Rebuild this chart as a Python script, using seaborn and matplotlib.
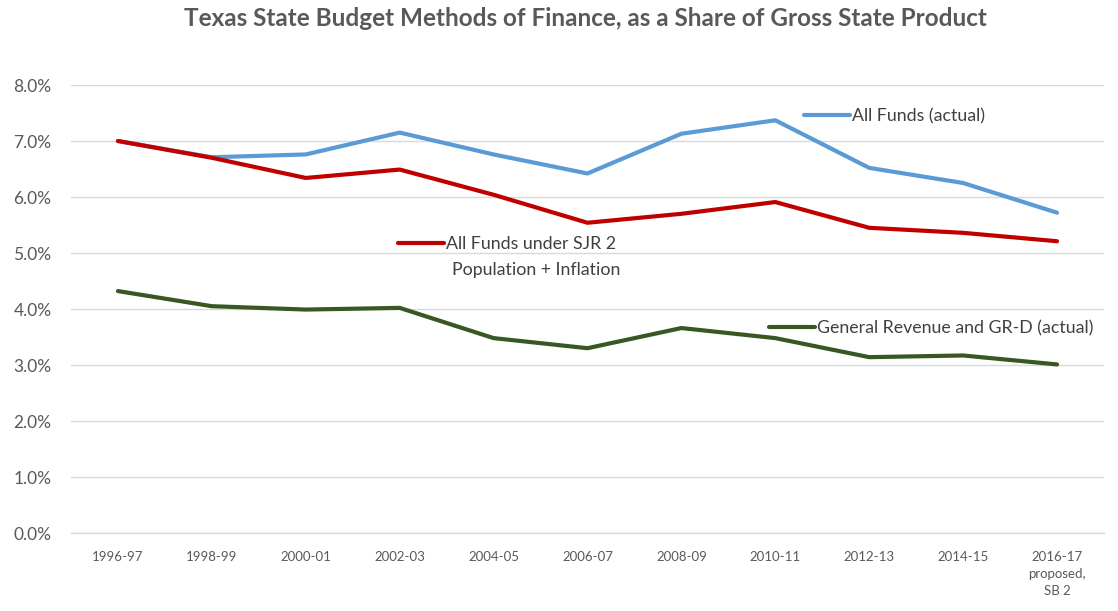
import matplotlib
matplotlib.use("Agg")
import matplotlib.pyplot as plt
from matplotlib.lines import Line2D
import seaborn as sns
import pandas as pd

periods = ["1996-97", "1998-99", "2000-01", "2002-03", "2004-05", "2006-07",
           "2008-09", "2010-11", "2012-13", "2014-15", "2016-17\nproposed,\nSB 2"]
all_funds = [7.00, 6.71, 6.76, 7.15, 6.76, 6.42, 7.13, 7.37, 6.52, 6.25, 5.72]
sjr2 = [7.00, 6.70, 6.34, 6.49, 6.04, 5.54, 5.70, 5.91, 5.45, 5.36, 5.21]
gr = [4.32, 4.05, 3.99, 4.02, 3.48, 3.30, 3.66, 3.48, 3.14, 3.17, 3.01]
y_ticks = [0, 1, 2, 3, 4, 5, 6, 7, 8]

series_names = ["All Funds (actual)", "All Funds under SJR 2", "General Revenue and GR-D (actual)"]
colors = ["#5B9BD5", "#C00000", "#385723"]

rows = []
for name, vals in zip(series_names, [all_funds, sjr2, gr]):
    for i, v in enumerate(vals):
        rows.append({"x": i, "value": v, "series": name})
df = pd.DataFrame(rows)

sns.set_theme(style="white")
plt.rcParams["font.family"] = ["Lato", "DejaVu Sans"]

fig = plt.figure(figsize=(11.18, 6.11), dpi=100)
ax = fig.add_axes([71/1118, 1 - 533/611, (1104 - 71)/1118, (533 - 85)/611])

sns.lineplot(data=df, x="x", y="value", hue="series", hue_order=series_names,
             palette=colors, linewidth=3.0, ax=ax, legend=False, sort=False)

ax.set_xlim(-0.5, len(periods) - 0.5)
ax.set_ylim(0, 8)
ax.set_yticks(y_ticks)
ax.set_yticklabels([f"{t:.1f}%" for t in y_ticks])
ax.set_xticks(range(len(periods)))
ax.set_xticklabels(periods, linespacing=1.5)
ax.grid(axis="y", color="#D9D9D9", linewidth=1.0)
ax.set_axisbelow(True)
for s in ["top", "right", "left"]:
    ax.spines[s].set_visible(False)
ax.spines["bottom"].set_color("#D9D9D9")
ax.spines["bottom"].set_linewidth(1.0)
ax.tick_params(axis="both", length=0, colors="#595959")
ax.tick_params(axis="y", labelsize=12.5, pad=14)
ax.tick_params(axis="x", labelsize=9.5, pad=13)
ax.set_xlabel("")
ax.set_ylabel("")

fig.text(0.524, 1 - 19/611, "Texas State Budget Methods of Finance, as a Share of Gross State Product",
         ha="center", va="center", fontsize=17.5, fontweight="bold", color="#595959")

LEG_FS = 12.8

def add_leg(name, color, x_px, y_px):
    h = Line2D([], [], color=color, linewidth=3.0)
    leg = fig.legend([h], [name], loc="center left",
                     bbox_to_anchor=(x_px/1118, 1 - y_px/611), bbox_transform=fig.transFigure,
                     frameon=False, fontsize=LEG_FS, handlelength=2.6, handletextpad=0.1,
                     borderpad=0, borderaxespad=0, labelcolor="#404040")
    return leg

add_leg(series_names[0], colors[0], 804, 116)
add_leg(series_names[1], colors[1], 398, 244)
add_leg(series_names[2], colors[2], 769, 328)
fig.text(452/1118, 1 - 270/611, "Population + Inflation", ha="left", va="center",
         fontsize=LEG_FS, color="#404040")

fig.savefig("out.png", dpi=100)
